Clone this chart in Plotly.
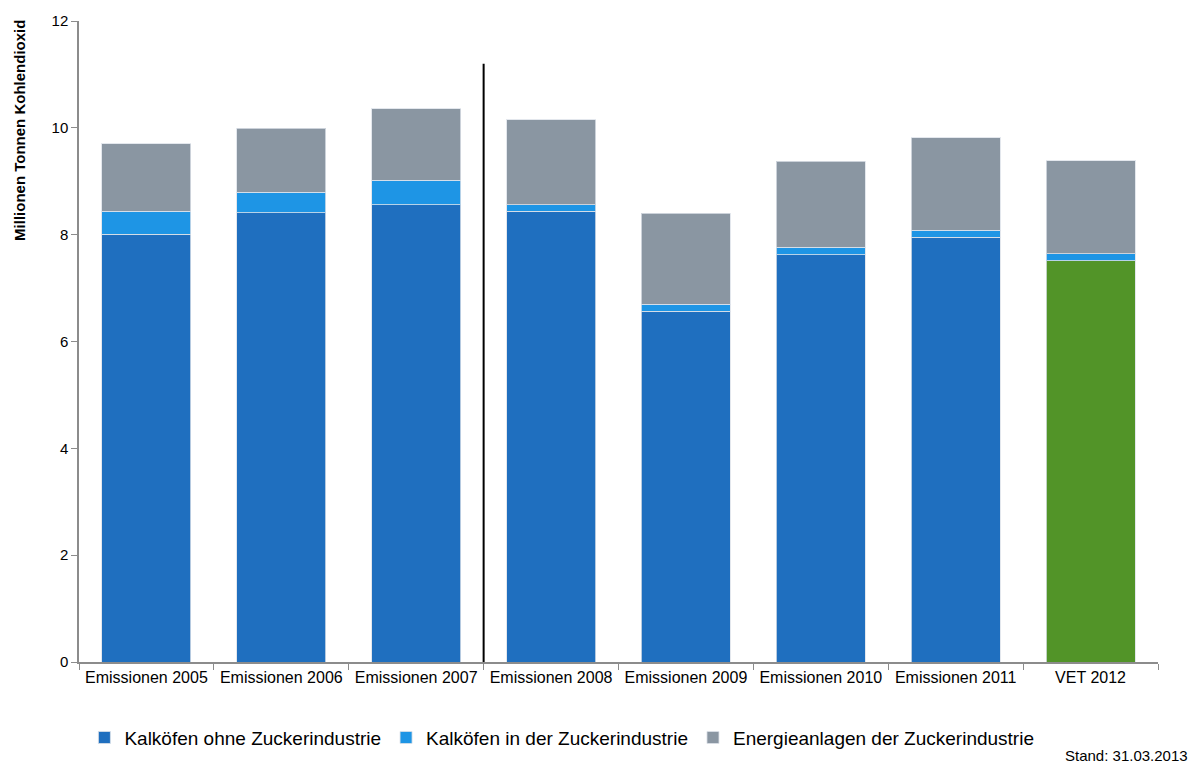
import plotly.graph_objects as go

categories = ["Emissionen 2005", "Emissionen 2006", "Emissionen 2007", "Emissionen 2008",
              "Emissionen 2009", "Emissionen 2010", "Emissionen 2011", "VET 2012"]
kalk_ohne = [8.01, 8.41, 8.56, 8.44, 6.57, 7.62, 7.95, 7.51]
kalk_zucker = [0.43, 0.38, 0.46, 0.12, 0.13, 0.14, 0.13, 0.13]
energie_zucker = [1.26, 1.20, 1.34, 1.59, 1.70, 1.61, 1.73, 1.74]
series_names = ["Kalköfen ohne Zuckerindustrie", "Kalköfen in der Zuckerindustrie",
                "Energieanlagen der Zuckerindustrie"]
y_ticks = [0, 2, 4, 6, 8, 10, 12]
divider_pos = 2.5
divider_top = 11.2

DARK_BLUE = "#1F6FBF"
LIGHT_BLUE = "#1E95E5"
GREY = "#8A96A2"
GREEN = "#529428"
FONT = "Liberation Sans Narrow, Arial Narrow, Liberation Sans, sans-serif"
OUTLINE = dict(color="rgba(220,225,232,0.8)", width=1)

first_colors = [DARK_BLUE] * (len(categories) - 1) + [GREEN]

fig = go.Figure()
fig.add_trace(go.Bar(x=categories, y=kalk_ohne, name=series_names[0],
                     marker=dict(color=first_colors, line=OUTLINE)))
fig.add_trace(go.Bar(x=categories, y=kalk_zucker, name=series_names[1],
                     marker=dict(color=LIGHT_BLUE, line=OUTLINE)))
fig.add_trace(go.Bar(x=categories, y=energie_zucker, name=series_names[2],
                     marker=dict(color=GREY, line=OUTLINE)))

# vertical separator between 2007 and 2008
fig.add_shape(type="line", xref="x", yref="y", x0=divider_pos, x1=divider_pos,
              y0=0, y1=divider_top, line=dict(color="black", width=2))

# y-axis title, aligned to the top of the plot
fig.add_annotation(text="<b>Millionen Tonnen Kohlendioxid</b>", xref="paper", yref="paper",
                   x=-0.055, y=1.005, xanchor="center", yanchor="top", textangle=-90,
                   showarrow=False, font=dict(family=FONT, size=15, color="black"))

fig.add_annotation(text="Stand: 31.03.2013", xref="paper", yref="paper",
                   x=1.030, y=-0.146, xanchor="right", yanchor="middle", showarrow=False,
                   font=dict(family=FONT, size=15, color="black"))

fig.update_layout(
    barmode="stack",
    bargap=0.34,
    width=1195, height=769,
    margin=dict(l=79, r=37, t=19, b=105),
    plot_bgcolor="white", paper_bgcolor="white",
    font=dict(family=FONT, color="black"),
    showlegend=True,
    legend=dict(orientation="h", x=0.005, y=-0.118, xanchor="left", yanchor="middle",
                font=dict(family=FONT, size=19, color="black"), traceorder="normal",
                itemwidth=30),
)
fig.update_xaxes(showline=True, linecolor="#8C8C8C", linewidth=1.5,
                 ticks="outside", tickson="boundaries", ticklen=6, tickcolor="#8C8C8C",
                 tickfont=dict(family=FONT, size=16, color="black"))
fig.update_yaxes(range=[0, 12], tickvals=y_ticks, showgrid=False, zeroline=False,
                 showline=True, linecolor="#8C8C8C", linewidth=1.5,
                 ticks="outside", ticklen=6, tickcolor="#8C8C8C",
                 tickfont=dict(family=FONT, size=15, color="black"))

fig.write_html("out.html")
